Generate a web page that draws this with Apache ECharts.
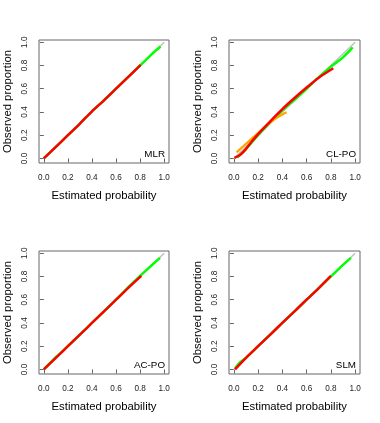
<!DOCTYPE html>
<html><head><meta charset="utf-8">
<script src="https://cdn.jsdelivr.net/npm/echarts@6/dist/echarts.min.js"></script>
<style>html,body{margin:0;padding:0;background:#fff}#c{width:380px;height:423px}</style>
</head><body><div id="c"></div>
<script>
var panelNames = ['MLR', 'CL-PO', 'AC-PO', 'SLM'];
var tickValues = [0, 0.2, 0.4, 0.6, 0.8, 1.0];
var refLine = [[0, 0], [1, 1]];

var mlrGreen = [[0, 0], [0.1, 0.1], [0.2, 0.2], [0.3, 0.3], [0.4, 0.405], [0.5, 0.5], [0.6, 0.6], [0.7, 0.7], [0.8, 0.8], [0.9, 0.9], [0.97, 0.963]];
var mlrRed = [[0, 0], [0.1, 0.1], [0.2, 0.2], [0.3, 0.3], [0.4, 0.405], [0.5, 0.5], [0.6, 0.6], [0.7, 0.7], [0.805, 0.805]];

var clGreen = [[0.03, 0.01], [0.1, 0.08], [0.2, 0.2], [0.3, 0.31], [0.4, 0.415], [0.5, 0.505], [0.6, 0.6], [0.7, 0.7], [0.8, 0.79], [0.9, 0.87], [0.98, 0.955]];
var clRed = [[0.005, 0.005], [0.05, 0.03], [0.09, 0.07], [0.146, 0.144], [0.2, 0.21], [0.3, 0.32], [0.4, 0.425], [0.5, 0.52], [0.6, 0.61], [0.7, 0.695], [0.82, 0.776]];
var clOrange = [[0.022, 0.052], [0.1, 0.125], [0.2, 0.22], [0.3, 0.31], [0.37, 0.36], [0.435, 0.397]];

var acGreen = [[0, 0], [0.1, 0.105], [0.2, 0.2], [0.3, 0.3], [0.4, 0.4], [0.5, 0.5], [0.6, 0.6], [0.7, 0.705], [0.8, 0.805], [0.9, 0.9], [0.965, 0.96]];
var acRed = [[0, 0], [0.1, 0.1], [0.2, 0.2], [0.3, 0.3], [0.4, 0.4], [0.5, 0.5], [0.6, 0.6], [0.7, 0.7], [0.81, 0.805]];

var slmGreen = [[0.01, 0.01], [0.05, 0.06], [0.1, 0.1], [0.2, 0.2], [0.3, 0.3], [0.4, 0.4], [0.5, 0.5], [0.6, 0.6], [0.7, 0.7], [0.8, 0.8], [0.9, 0.9], [0.965, 0.96]];
var slmRed = [[0.01, 0.0], [0.1, 0.1], [0.2, 0.2], [0.3, 0.3], [0.4, 0.4], [0.5, 0.5], [0.6, 0.6], [0.7, 0.7], [0.8, 0.805]];

var panels = [
  {name: panelNames[0], green: mlrGreen, red: mlrRed, orange: null},
  {name: panelNames[1], green: clGreen, red: clRed, orange: clOrange},
  {name: panelNames[2], green: acGreen, red: acRed, orange: null},
  {name: panelNames[3], green: slmGreen, red: slmRed, orange: null}
];

var boxes = [
  {left: 39, top: 40, width: 130, height: 123},
  {left: 229, top: 40, width: 131, height: 123},
  {left: 39, top: 251, width: 130, height: 123},
  {left: 229, top: 251, width: 131, height: 123}
];

var FONT = 'Liberation Sans, Arial, sans-serif';
var grid = [], xAxis = [], yAxis = [], series = [], title = [];
panels.forEach(function (p, i) {
  var b = boxes[i];
  grid.push({left: b.left, top: b.top, width: b.width, height: b.height, show: true, borderColor: '#666', borderWidth: 1, backgroundColor: 'transparent'});
  xAxis.push({
    type: 'value', gridIndex: i, min: -0.04, max: 1.04,
    name: 'Estimated probability', nameLocation: 'middle', nameGap: 27,
    nameTextStyle: {fontFamily: FONT, fontSize: 11.3, color: '#000'},
    axisLine: {show: false}, splitLine: {show: false},
    axisTick: {show: true, length: 4, inside: false, customValues: tickValues, lineStyle: {color: '#666'}},
    axisLabel: {customValues: tickValues, margin: 10.5, fontFamily: FONT, fontSize: 8.2, color: '#222',
      formatter: function (v) { return v.toFixed(1); }}
  });
  yAxis.push({
    type: 'value', gridIndex: i, min: -0.039, max: 1.019,
    name: 'Observed proportion', nameLocation: 'middle', nameGap: 26,
    nameTextStyle: {fontFamily: FONT, fontSize: 11.3, color: '#000'},
    axisLine: {show: false}, splitLine: {show: false},
    axisTick: {show: true, length: 4, inside: false, customValues: tickValues, lineStyle: {color: '#666'}},
    axisLabel: {customValues: tickValues, margin: 10, rotate: 90, fontFamily: FONT, fontSize: 8.2, color: '#222',
      formatter: function (v) { return v.toFixed(1); }}
  });
  series.push({type: 'line', xAxisIndex: i, yAxisIndex: i, data: refLine, showSymbol: false, silent: true,
    lineStyle: {color: '#c0c0c0', width: 1.5}, z: 1});
  series.push({type: 'line', xAxisIndex: i, yAxisIndex: i, data: p.green, showSymbol: false, smooth: 0.3, silent: true,
    lineStyle: {color: '#00ff00', width: 2.5}, z: 2});
  if (p.orange) {
    series.push({type: 'line', xAxisIndex: i, yAxisIndex: i, data: p.orange, showSymbol: false, smooth: 0.3, silent: true,
      lineStyle: {color: '#ffa500', width: 2.2}, z: 3});
  }
  series.push({type: 'line', xAxisIndex: i, yAxisIndex: i, data: p.red, showSymbol: false, smooth: 0.3, silent: true,
    lineStyle: {color: '#ff0000', width: 2.5}, z: 4});
  title.push({text: p.name, right: 380 - (b.left + b.width) + 4, top: b.top + b.height - 14,
    textStyle: {fontFamily: FONT, fontSize: 9.8, fontWeight: 'normal', color: '#000'}, padding: 0});
});

var chart = echarts.init(document.getElementById('c'), null, {renderer: 'canvas'});
chart.setOption({animation: false, title: title, grid: grid, xAxis: xAxis, yAxis: yAxis, series: series});
</script></body></html>
